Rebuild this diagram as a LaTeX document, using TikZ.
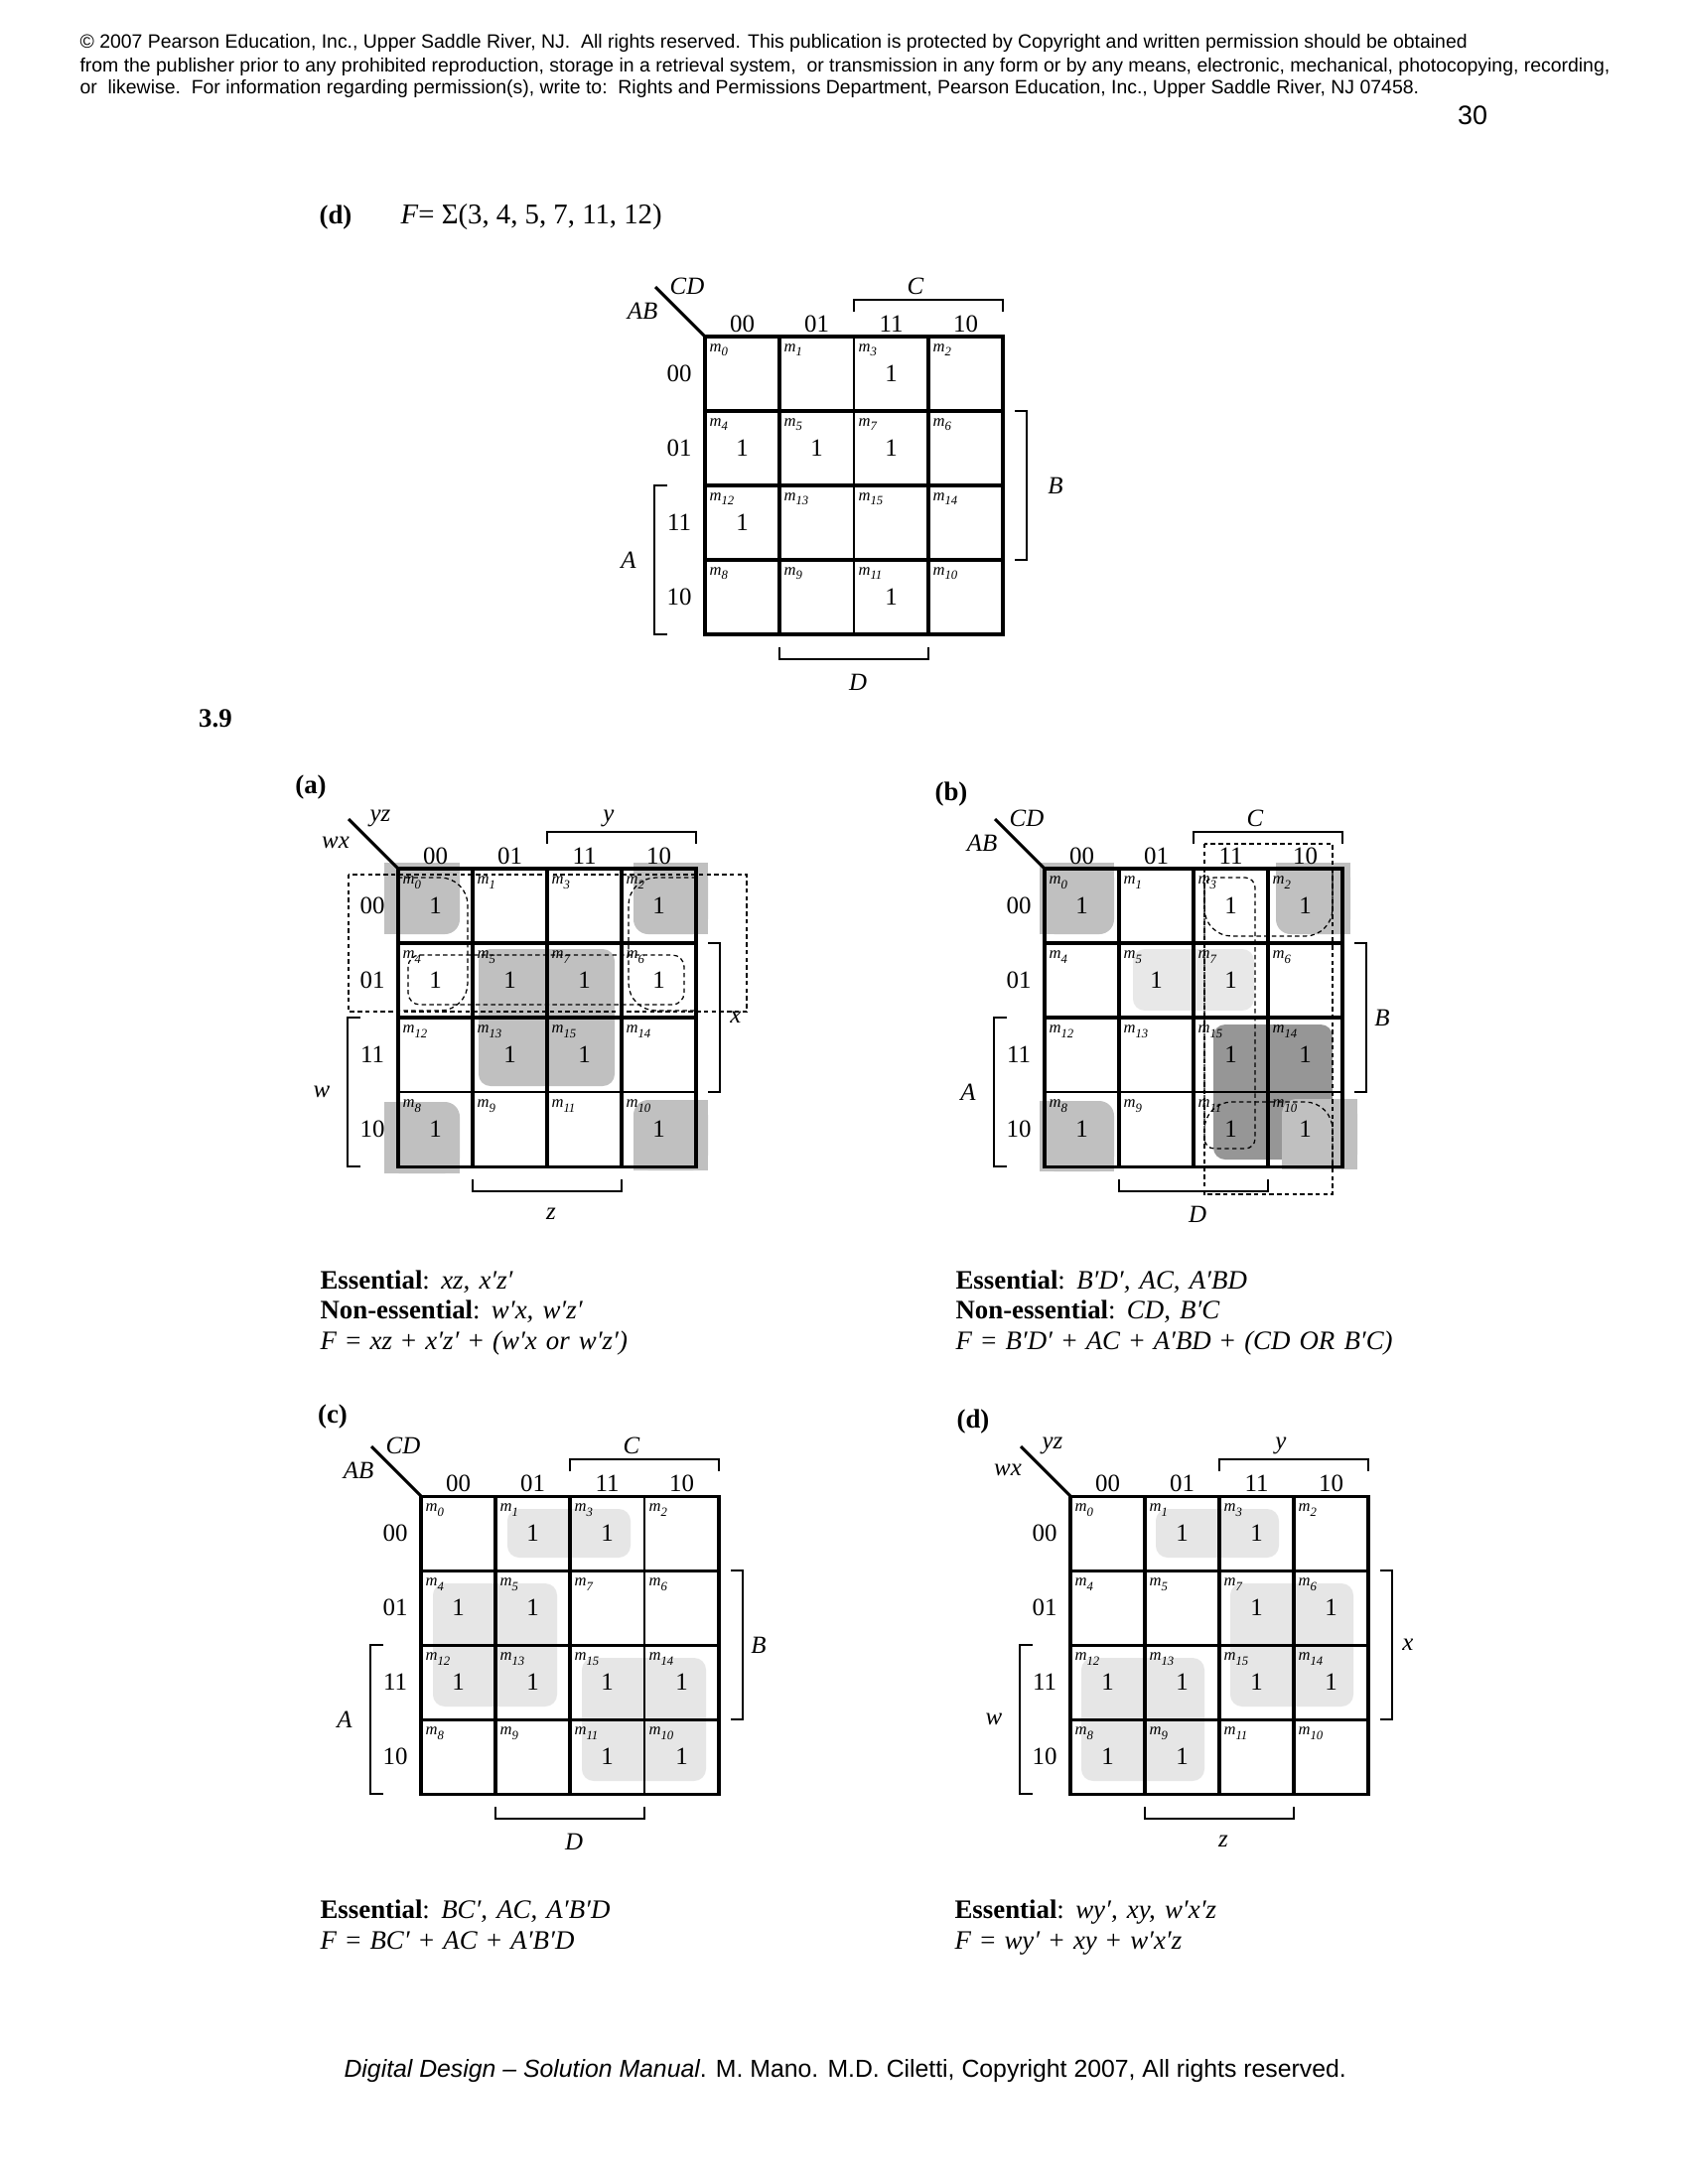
\documentclass[tikz,border=0pt]{standalone}
\usepackage{fontspec}
\setmainfont{Liberation Serif}
\newfontfamily\arialf{Liberation Sans}
\definecolor{shA}{RGB}{192,192,192}
\definecolor{shD}{RGB}{150,150,150}
\definecolor{shL}{RGB}{232,232,232}
\definecolor{shC}{RGB}{230,230,230}
\newcommand\pq{′}
\tikzset{
 thk/.style={line width=1.1pt},
 thn/.style={line width=0.5pt},
 brk/.style={line width=0.5pt},
 dsh/.style={line width=0.45pt, dash pattern=on 1.6pt off 1.2pt},
 lab/.style={inner sep=0pt, font=\fontsize{9}{10}\selectfont},
 var/.style={inner sep=0pt, font=\fontsize{9}{10}\selectfont\itshape},
 mt/.style={inner sep=0pt, anchor=base west, font=\fontsize{6}{7}\selectfont\itshape},
 one/.style={inner sep=0pt, font=\fontsize{9}{10}\selectfont},
 ess/.style={inner sep=0pt, anchor=base west, font={\fontsize{9.7}{11}\selectfont\spaceskip=3.3pt plus 1pt minus 0.5pt\relax}},
 plab/.style={inner sep=0pt, font=\fontsize{9.7}{11}\selectfont\bfseries},
 hdr/.style={inner sep=0pt, anchor=base west, font=\arialf\fontsize{7.02}{8}\selectfont},
}
\def\bx{340}
% grid: gx gy v1 v2 v3 h1 h2 h3
\newcommand\kgrid[8]{%
 \draw[#3] (#1+75,#2) -- (#1+75,#2+300);
 \draw[#4] (#1+150,#2) -- (#1+150,#2+300);
 \draw[#5] (#1+225,#2) -- (#1+225,#2+300);
 \draw[#6] (#1,#2+75) -- (#1+300,#2+75);
 \draw[#7] (#1,#2+150) -- (#1+300,#2+150);
 \draw[#8] (#1,#2+225) -- (#1+300,#2+225);
 \draw[thk] (#1,#2) rectangle (#1+300,#2+300);
}
% labels: prefix gx gy rowvar colvar C B A D
\newcommand\kmap[9]{%
 \draw[thk] (#2-50,#3-50) coordinate (#1dg) -- (#2,#3) coordinate (#1corner);
 \node[var] (#1cv) at (#2-18,#3-51) {#5};
 \node[var] (#1rv) at (#2-63,#3-26) {#4};
 \foreach \cc/\tx in {0/00,1/01,2/11,3/10} {
   \node[lab] (#1col\cc) at (#2+37.5+75*\cc,#3-13) {\tx};
   \node[lab] (#1row\cc) at (#2-26,#3+37.5+75*\cc) {\tx};
 }
 \draw[brk] (#2+150,#3-25) -- (#2+150,#3-37) -- (#2+300,#3-37) -- (#2+300,#3-25);
 \node[var] (#1C) at (#2+212,#3-51) {#6};
 \draw[brk] (#2+312,#3+75) -- (#2+324,#3+75) -- (#2+324,#3+225) -- (#2+312,#3+225);
 \node[var] (#1B) at (#2+\bx,#3+150) {#7};
 \draw[brk] (#2-38,#3+150) -- (#2-51,#3+150) -- (#2-51,#3+300) -- (#2-38,#3+300);
 \node[var] (#1A) at (#2-77,#3+225) {#8};
 \draw[brk] (#2+75,#3+313) -- (#2+75,#3+325) -- (#2+225,#3+325) -- (#2+225,#3+313);
 \node[var] (#1D) at (#2+154,#3+348) {#9};
 \foreach \rr/\rv in {0/0,1/1,2/3,3/2} {
  \foreach \cc/\cv in {0/0,1/1,2/3,3/2} {
   \pgfmathtruncatemacro\mm{4*\rv+\cv}
   \node[mt] (#1m\mm) at (#2+75*\cc+4,#3+75*\rr+15) {m\raisebox{-1.8pt}{\fontsize{4.6}{5}\selectfont\mm}};
  }
 }
}
\newcommand\kones[4]{%
 \foreach \cc/\rr in {#4} { \node[one] (#1one\cc\rr) at (#2+37.5+75*\cc,#3+37.5+75*\rr) {1}; }
}
% corner pieces: color x1 y1 x2 y2
\newcommand\pBR[5]{\fill[#1,rounded corners=5.4pt] (#2,#3) rectangle (#4,#5);
 \fill[#1] (#2,#3) rectangle (#4,#5-15); \fill[#1] (#2,#3) rectangle (#4-15,#5);}
\newcommand\pBL[5]{\fill[#1,rounded corners=5.4pt] (#2,#3) rectangle (#4,#5);
 \fill[#1] (#2,#3) rectangle (#4,#5-15); \fill[#1] (#2+15,#3) rectangle (#4,#5);}
\newcommand\pTR[5]{\fill[#1,rounded corners=5.4pt] (#2,#3) rectangle (#4,#5);
 \fill[#1] (#2,#3+15) rectangle (#4,#5); \fill[#1] (#2,#3) rectangle (#4-15,#5);}
\newcommand\pTL[5]{\fill[#1,rounded corners=5.4pt] (#2,#3) rectangle (#4,#5);
 \fill[#1] (#2,#3+15) rectangle (#4,#5); \fill[#1] (#2+15,#3) rectangle (#4,#5);}

\begin{document}
\begin{tikzpicture}[x=0.36135pt,y=-0.36135pt]
\useasboundingbox (0,0) rectangle (1700,2200);
\fill[white] (0,0) rectangle (1700,2200);

% header
\node[hdr] (h1) at (80,48) {© 2007 Pearson Education, Inc., Upper Saddle River, NJ.\ \ All rights reserved. This publication is protected by Copyright and written permission should be obtained};
\node[hdr] (h2) at (80,72) {from the publisher prior to any prohibited reproduction, storage in a retrieval system,\ \ or transmission in any form or by any means, electronic, mechanical, photocopying, recording,};
\node[hdr] (h3) at (80,94) {or\ \ likewise.\ \ For information regarding permission(s), write to:\ \ Rights and Permissions Department, Pearson Education, Inc., Upper Saddle River, NJ 07458.};
\node[inner sep=0pt, font=\arialf\fontsize{9.7}{11}\selectfont] (pg) at (1483,116) {30};

% title (d)
\node[plab] (tdl) at (338,219) {(d)};
\node[inner sep=0pt, anchor=west, font=\fontsize{10.4}{12}\selectfont] (tdf) at (403,219) {\textit{F}= Σ(3, 4, 5, 7, 11, 12)};

% top map
\kgrid{710}{339}{thk}{thn}{thk}{thk}{thk}{thk}
\def\bx{353}
\kmap{t}{710}{339}{AB}{CD}{C}{B}{A}{D}
\def\bx{340}
\kones{t}{710}{339}{2/0,0/1,1/1,2/1,0/2,2/3}

\node[plab] (sec) at (217,724) {3.9};

% ---------- (a)
\node[plab] (la) at (313,793) {(a)};
\pBR{shA}{387}{869}{463}{941}
\pBL{shA}{638}{869}{713}{941}
\pTR{shA}{387}{1110}{463}{1182}
\pTL{shA}{638}{1108}{713}{1179}
\fill[shA,rounded corners=4.3pt] (482,956) rectangle (619,1094);
\kgrid{401}{875}{thk}{thk}{thk}{thk}{thk}{thn}
\kmap{a}{401}{875}{wx}{yz}{y}{x}{w}{z}
\kones{a}{401}{875}{0/0,3/0,0/1,1/1,2/1,3/1,1/2,2/2,0/3,3/3}
\draw[dsh] (351,881) rectangle (752,1019);
\draw[dsh,rounded corners=10pt] (401,884) -- (471,884) -- (471,1018) -- (401,1018);
\draw[dsh,rounded corners=10pt] (701,884) -- (633,884) -- (633,1018) -- (701,1018);
\draw[dsh,rounded corners=4.3pt] (411,962) rectangle (689,1012);

% ---------- (b)
\node[plab] (lb) at (958,800) {(b)};
\pBR{shA}{1047}{869}{1122}{941}
\pBL{shA}{1285}{869}{1360}{941}
\pTR{shA}{1047}{1109}{1122}{1180}
\fill[shD,rounded corners=4.3pt] (1222,1032) rectangle (1342,1168);
\pTL{shA}{1291}{1107}{1367}{1178}
\fill[shL,rounded corners=4.3pt] (1141,956) rectangle (1263,1018);
\kgrid{1052}{875}{thk}{thk}{thk}{thk}{thk}{thn}
\kmap{b}{1052}{875}{AB}{CD}{C}{B}{A}{D}
\kones{b}{1052}{875}{0/0,2/0,3/0,1/1,2/1,2/2,3/2,0/3,2/3,3/3}
\draw[dsh] (1213,850) rectangle (1342,1203);
\draw[dsh,rounded corners=3.6pt] (1213,884) rectangle (1264,1157);
\draw[dsh,rounded corners=10pt] (1213,875) -- (1213,943) -- (1342,943) -- (1342,875);
\draw[dsh,rounded corners=10pt] (1213,1180) -- (1213,1110) -- (1342,1110) -- (1342,1180);

% essentials (a) (b)
\node[ess] (ea1) at (322,1298) {\textbf{Essential}: \textit{xz, x\pq z\pq}};
\node[ess] (ea2) at (322,1328.5) {\textbf{Non-essential}: \textit{w\pq x, w\pq z\pq}};
\node[ess] (ea3) at (322,1359) {\textit{F} = \textit{xz} + \textit{x\pq z\pq} + \textit{(w\pq x or w\pq z\pq)}};
\node[ess] (eb1) at (962,1298) {\textbf{Essential}: \textit{B\pq D\pq, AC, A\pq BD}};
\node[ess] (eb2) at (962,1328.5) {\textbf{Non-essential}: \textit{CD, B\pq C}};
\node[ess] (eb3) at (962,1359) {\textit{F} = \textit{B\pq D\pq} + \textit{AC} + \textit{A\pq BD} + \textit{(CD OR B\pq C)}};

% ---------- (c)
\node[plab] (lc) at (335,1427) {(c)};
\fill[shC,rounded corners=4.3pt] (511,1520) rectangle (635,1569);
\fill[shC,rounded corners=4.3pt] (436,1595) rectangle (561,1719);
\fill[shC,rounded corners=4.3pt] (586,1670) rectangle (711,1794);
\kgrid{424}{1507}{thk}{thk}{thn}{thk}{thk}{thk}
\kmap{c}{424}{1507}{AB}{CD}{C}{B}{A}{D}
\kones{c}{424}{1507}{1/0,2/0,0/1,1/1,0/2,1/2,2/2,3/2,2/3,3/3}

% ---------- (d)
\node[plab] (ld) at (980,1432) {(d)};
\fill[shC,rounded corners=4.3pt] (1164,1520) rectangle (1288,1569);
\fill[shC,rounded corners=4.3pt] (1239,1595) rectangle (1363,1719);
\fill[shC,rounded corners=4.3pt] (1089,1670) rectangle (1213,1794);
\kgrid{1078}{1507}{thk}{thk}{thk}{thk}{thk}{thk}
\kmap{d}{1078}{1507}{wx}{yz}{y}{x}{w}{z}
\kones{d}{1078}{1507}{1/0,2/0,2/1,3/1,0/2,1/2,2/2,3/2,0/3,1/3}

% essentials (c) (d)
\node[ess] (ec1) at (322,1932) {\textbf{Essential}: \textit{BC\pq, AC, A\pq B\pq D}};
\node[ess] (ec2) at (322,1963) {\textit{F} = \textit{BC\pq} + \textit{AC} + \textit{A\pq B\pq D}};
\node[ess] (ed1) at (961,1932) {\textbf{Essential}: \textit{wy\pq, xy, w\pq x\pq z}};
\node[ess] (ed2) at (961,1963) {\textit{F} = \textit{wy\pq} + \textit{xy} + \textit{w\pq x\pq z}};

% footer
\node[inner sep=0pt, anchor=base west, font=\arialf\fontsize{8.96}{10}\selectfont] (ft) at (346,2092) {\textit{Digital Design – Solution Manual}. M. Mano. M.D. Ciletti, Copyright 2007, All rights reserved.};
\end{tikzpicture}
\end{document}
